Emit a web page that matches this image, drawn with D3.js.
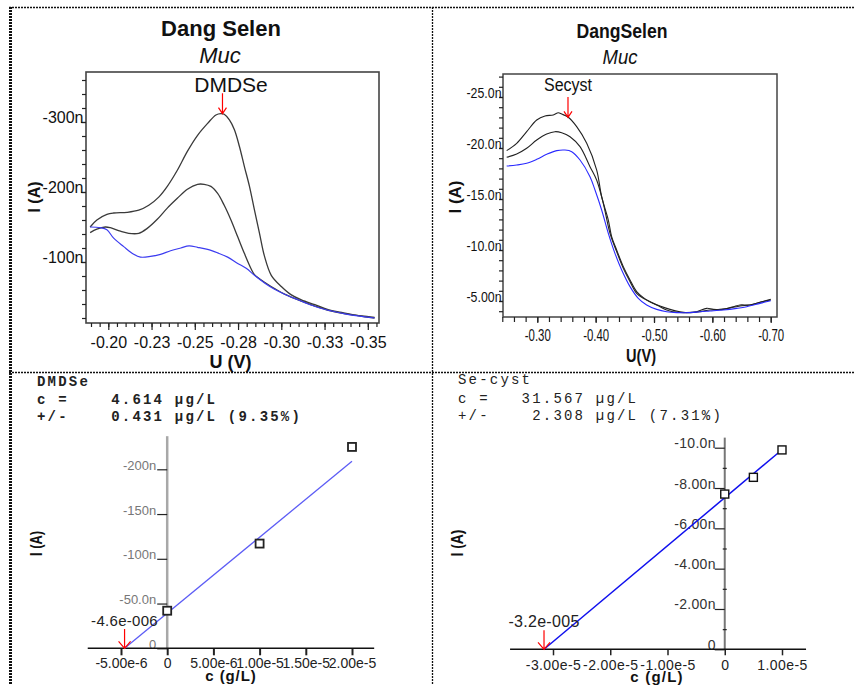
<!DOCTYPE html>
<html><head><meta charset="utf-8">
<script src="https://cdn.jsdelivr.net/npm/d3@7"></script>
<style>
html,body{margin:0;padding:0;background:#fff;}
svg{display:block;}
text{font-family:Arial,"Liberation Sans",sans-serif;}
.mono{font-family:"Liberation Mono","Courier New",monospace;white-space:pre;letter-spacing:2.2px;font-size:14px;}
</style></head><body>
<svg id="c" width="854" height="685"></svg>
<script>
// ---------- Panel 1 (DMDSe voltammogram) : [U (V), I (nA)] ----------
const p1Blue = [[-0.1895,-150],[-0.1953,-149],[-0.1992,-146],[-0.2031,-134],[-0.2089,-122],[-0.2147,-111],[-0.2186,-107],[-0.2244,-108],[-0.2302,-111],[-0.2360,-116],[-0.2419,-120],[-0.2467,-123],[-0.2516,-121],[-0.2574,-118],[-0.2632,-113],[-0.2690,-107],[-0.2748,-98],[-0.2797,-91],[-0.2845,-81],[-0.2903,-70],[-0.2961,-61],[-0.3019,-54],[-0.3077,-48],[-0.3136,-42],[-0.3213,-35],[-0.3291,-30],[-0.3368,-26],[-0.3446,-23],[-0.3539,-20]];
const p1Std1 = [[-0.1895,-142],[-0.1934,-147],[-0.1983,-150],[-0.2012,-149],[-0.2070,-144],[-0.2118,-141],[-0.2176,-141],[-0.2225,-148],[-0.2283,-161],[-0.2341,-177],[-0.2399,-191],[-0.2457,-204],[-0.2516,-211],[-0.2554,-211],[-0.2593,-208],[-0.2632,-198],[-0.2670,-181],[-0.2709,-160],[-0.2748,-136],[-0.2787,-112],[-0.2826,-90],[-0.2845,-82],[-0.2903,-71],[-0.2961,-62],[-0.3019,-54],[-0.3116,-44],[-0.3194,-37],[-0.3271,-31],[-0.3349,-27],[-0.3426,-24],[-0.3504,-21],[-0.3539,-20]];
const p1Std2 = [[-0.1895,-150],[-0.1934,-160],[-0.1992,-168],[-0.2031,-170],[-0.2109,-171],[-0.2176,-174],[-0.2234,-181],[-0.2293,-193],[-0.2341,-208],[-0.2399,-231],[-0.2457,-258],[-0.2516,-281],[-0.2574,-298],[-0.2622,-310],[-0.2651,-312],[-0.2670,-311],[-0.2700,-303],[-0.2729,-289],[-0.2758,-265],[-0.2787,-236],[-0.2816,-208],[-0.2845,-174],[-0.2874,-141],[-0.2903,-108],[-0.2942,-81],[-0.3000,-65],[-0.3058,-53],[-0.3116,-46],[-0.3194,-39],[-0.3271,-32],[-0.3349,-28],[-0.3426,-24],[-0.3504,-22],[-0.3539,-21]];
const p1XTickVals = [-0.200,-0.225,-0.250,-0.275,-0.300,-0.325,-0.350];
const p1XTickLabels = ["-0.20","-0.23","-0.25","-0.28","-0.30","-0.33","-0.35"];
const p1YTickVals = [-100,-200,-300];
const p1YTickLabels = ["-100n","-200n","-300n"];
const p1Arrow = [-0.266,-341,-312]; // U, top I, tip I

// ---------- Panel 2 (Se-cyst voltammogram) ----------
const p2Blue = [[-0.2475,-18.24],[-0.2647,-18.33],[-0.2818,-18.50],[-0.2990,-18.89],[-0.3161,-19.38],[-0.3333,-19.74],[-0.3475,-19.80],[-0.3590,-19.64],[-0.3732,-18.82],[-0.3903,-17.19],[-0.3989,-15.88],[-0.4103,-13.92],[-0.4217,-11.63],[-0.4331,-9.67],[-0.4446,-8.04],[-0.4589,-6.41],[-0.4731,-5.26],[-0.4874,-4.61],[-0.5046,-4.18],[-0.5217,-3.95],[-0.5389,-3.86],[-0.5617,-3.86],[-0.5789,-3.95],[-0.5960,-4.02],[-0.6189,-4.12],[-0.6417,-4.28],[-0.6589,-4.44],[-0.6817,-4.77],[-0.7000,-5.03]];
const p2Std1 = [[-0.2475,-19.09],[-0.2647,-19.41],[-0.2818,-19.97],[-0.2990,-20.78],[-0.3161,-21.37],[-0.3303,-21.60],[-0.3418,-21.50],[-0.3561,-21.11],[-0.3732,-20.13],[-0.3903,-18.17],[-0.4017,-16.86],[-0.4131,-14.58],[-0.4246,-11.63],[-0.4360,-9.84],[-0.4474,-8.20],[-0.4589,-6.90],[-0.4703,-5.75],[-0.4817,-5.26],[-0.4931,-4.93],[-0.5103,-4.51],[-0.5274,-4.18],[-0.5446,-3.95],[-0.5617,-3.86],[-0.5789,-3.95],[-0.5960,-4.12],[-0.6131,-4.18],[-0.6303,-4.31],[-0.6474,-4.51],[-0.6646,-4.61],[-0.6817,-4.87],[-0.7000,-5.10]];
const p2Std2 = [[-0.2475,-19.74],[-0.2647,-20.46],[-0.2818,-21.60],[-0.2990,-22.75],[-0.3132,-23.14],[-0.3274,-23.24],[-0.3360,-23.46],[-0.3418,-23.33],[-0.3531,-23.01],[-0.3675,-22.09],[-0.3847,-20.46],[-0.4018,-17.84],[-0.4103,-15.23],[-0.4217,-12.94],[-0.4274,-11.31],[-0.4360,-10.00],[-0.4474,-8.37],[-0.4589,-7.06],[-0.4703,-5.92],[-0.4817,-5.33],[-0.4931,-4.93],[-0.5103,-4.44],[-0.5217,-4.12],[-0.5389,-3.89],[-0.5560,-3.86],[-0.5731,-3.95],[-0.5903,-4.28],[-0.6017,-4.18],[-0.6189,-4.18],[-0.6360,-4.44],[-0.6474,-4.61],[-0.6646,-4.61],[-0.6817,-4.87],[-0.7000,-5.16]];
const p2XTickVals = [-0.30,-0.40,-0.50,-0.60,-0.70];
const p2XTickLabels = ["-0.30","-0.40","-0.50","-0.60","-0.70"];
const p2YTickVals = [-5,-10,-15,-20,-25];
const p2YTickLabels = ["-5.00n","-10.0n","-15.0n","-20.0n","-25.0n"];
const p2Arrow = [-0.3526,-25.0,-23.0];

// ---------- Panel 3 (DMDSe standard addition) : [c (g/L), I (nA)] ----------
const p3Points = [[0,-42],[1e-5,-117],[2e-5,-225]];
const p3Fit = [[-4.614e-6,0],[2e-5,-209]];
const p3XTickVals = [-5e-6,0,5e-6,1e-5,1.5e-5,2e-5];
const p3XTickLabels = ["-5.00e-6","0","5.00e-6","1.00e-5","1.50e-5","2.00e-5"];
const p3YTickVals = [0,-50,-100,-150,-200];
const p3YTickLabels = ["0","-50.0n","-100n","-150n","-200n"];
const p3XExtent = [-8.6e-6,2.24e-5];
const p3YTop = -237;
const p3Arrow = [-4.614e-6,-21.5,0];
const p3ArrowLabel = "-4.6e-006";
const p3Header = ["DMDSe","c =    4.614 µg/L","+/-    0.431 µg/L (9.35%)"];

// ---------- Panel 4 (Se-cyst standard addition) ----------
const p4Points = [[0,-7.70],[5e-6,-8.53],[1e-5,-9.89]];
const p4Fit = [[-3.157e-5,0],[1e-5,-9.9]];
const p4XTickVals = [-3e-5,-2e-5,-1e-5,0,1e-5];
const p4XTickLabels = ["-3.00e-5","-2.00e-5","-1.00e-5","0","1.00e-5"];
const p4YTickVals = [0,-2,-4,-6,-8,-10];
const p4YTickLabels = ["0","-2.00n","-4.00n","-6.00n","-8.00n","-10.0n"];
const p4YMinor = [-1,-3,-5,-7,-9];
const p4XExtent = [-3.75e-5,1.42e-5];
const p4YTop = -10.5;
const p4Arrow = [-3.157e-5,-0.95,0];
const p4ArrowLabel = "-3.2e-005";
const p4Header = ["Se-cyst","c =   31.567 µg/L","+/-    2.308 µg/L (7.31%)"];

// =====================================================================
const svg = d3.select("#c");
svg.append("rect").attr("width",854).attr("height",685).attr("fill","#fff");
const FONT = "Arial, 'Liberation Sans', sans-serif";

// table grid
function gl(x1,y1,x2,y2,w,da){svg.append("line").attr("x1",x1).attr("y1",y1).attr("x2",x2).attr("y2",y2)
  .attr("stroke","#111").attr("stroke-width",w).attr("stroke-dasharray",da);}
gl(10.5,7,10.5,685,3,"2,1");
gl(9,7.5,854,7.5,1.6,"2,1");
gl(432.5,7,432.5,685,1.3,"2,1");
gl(9,372.5,854,372.5,1.3,"2,1");

function txt(x,y,s,size,opt={}){
  const t=svg.append("text").attr("x",x).attr("y",y).text(s).attr("font-size",size)
    .attr("text-anchor",opt.anchor||"middle").attr("fill",opt.fill||"#111");
  if(opt.bold) t.attr("font-weight","bold");
  if(opt.italic) t.attr("font-style","italic");
  if(opt.len) t.attr("textLength",opt.len).attr("lengthAdjust","spacingAndGlyphs");
  if(opt.ls) t.attr("letter-spacing",opt.ls);
  if(opt.rot) t.attr("transform",`rotate(-90,${x},${y})`);
  return t;
}
function arrow(x,yTop,yTip,arm,h){
  svg.append("path").attr("d",`M${x},${yTop}L${x},${yTip}M${x-arm},${yTip-h}L${x},${yTip}L${x+arm},${yTip-h}`)
    .attr("fill","none").attr("stroke","#f00").attr("stroke-width",1.2);
}
function styleAxis(g,size,fill,lineW){
  g.attr("font-size",size).attr("font-family",FONT);
  g.select(".domain").remove();
  g.selectAll("line").attr("stroke","#222").attr("stroke-width",lineW||1.2);
  g.selectAll("text").attr("fill",fill||"#111");
  return g;
}

// ---------------- Panel 1 ----------------
{
  const F={l:86,t:72,r:379,b:323};
  const x=d3.scaleLinear().domain([-0.20,-0.35]).range([108.3,367.8]);
  const y=d3.scaleLinear().domain([0,-300]).range([332,122]);
  const ln=d3.line().x(d=>x(d[0])).y(d=>y(d[1])).curve(d3.curveCatmullRom.alpha(0.5));
  svg.append("path").attr("d",ln(p1Std2)).attr("fill","none").attr("stroke","#3a3a3a").attr("stroke-width",1.3);
  svg.append("path").attr("d",ln(p1Std1)).attr("fill","none").attr("stroke","#3a3a3a").attr("stroke-width",1.3);
  svg.append("path").attr("d",ln(p1Blue)).attr("fill","none").attr("stroke","#3c3cf0").attr("stroke-width",1.2);
  svg.append("rect").attr("x",F.l).attr("y",F.t).attr("width",F.r-F.l).attr("height",F.b-F.t)
    .attr("fill","none").attr("stroke","#444").attr("stroke-width",1.6);
  const xMinor=d3.range(38,72).map(k=>-k*0.005);
  styleAxis(svg.append("g").attr("transform",`translate(0,${F.b})`).call(d3.axisBottom(x).tickValues(xMinor).tickSize(4).tickFormat("")),16);
  styleAxis(svg.append("g").attr("transform",`translate(0,${F.b})`).call(d3.axisBottom(x).tickValues(p1XTickVals).tickSize(7).tickPadding(7).tickFormat((d,i)=>p1XTickLabels[i])),16);
  const yMinor=d3.range(1,19).map(k=>-k*20);
  styleAxis(svg.append("g").attr("transform",`translate(${F.l},0)`).call(d3.axisLeft(y).tickValues(yMinor).tickSize(4).tickFormat("")),16);
  const gy=styleAxis(svg.append("g").attr("transform",`translate(${F.l},0)`).call(d3.axisLeft(y).tickValues(p1YTickVals).tickSize(5).tickFormat((d,i)=>p1YTickLabels[i])),16);
  gy.selectAll("text").attr("dy","0").attr("x",-2.5);
  arrow(x(p1Arrow[0]),y(p1Arrow[1]),y(p1Arrow[2]),4,6);
  txt(221,36,"Dang Selen",22,{bold:true});
  txt(220,62.5,"Muc",22,{italic:true});
  txt(231,91.5,"DMDSe",21);
  txt(34.5,197,"I (A)",16,{bold:true,rot:true}).attr("dy","0.36em");
  txt(230.5,368,"U (V)",18,{bold:true});
}

// ---------------- Panel 2 ----------------
{
  const F={l:503,t:74,r:777,b:317};
  const x=d3.scaleLinear().domain([-0.30,-0.70]).range([537.3,770.7]);
  const y=d3.scaleLinear().domain([-5,-25]).range([301,97]);
  const ln=d3.line().x(d=>x(d[0])).y(d=>y(d[1])).curve(d3.curveCatmullRom.alpha(0.5));
  svg.append("path").attr("d",ln(p2Std2)).attr("fill","none").attr("stroke","#222").attr("stroke-width",1.1);
  svg.append("path").attr("d",ln(p2Std1)).attr("fill","none").attr("stroke","#222").attr("stroke-width",1.1);
  svg.append("path").attr("d",ln(p2Blue)).attr("fill","none").attr("stroke","#2a2aff").attr("stroke-width",1.1);
  svg.append("rect").attr("x",F.l).attr("y",F.t).attr("width",F.r-F.l).attr("height",F.b-F.t)
    .attr("fill","none").attr("stroke","#444").attr("stroke-width",1.5);
  const xMinor=d3.range(12,36).map(k=>-k*0.02);
  styleAxis(svg.append("g").attr("transform",`translate(0,${F.b})`).call(d3.axisBottom(x).tickValues(xMinor).tickSize(5).tickFormat("")),16);
  const gx=styleAxis(svg.append("g").attr("transform",`translate(0,${F.b})`).call(d3.axisBottom(x).tickValues(p2XTickVals).tickSize(6).tickPadding(7).tickFormat((d,i)=>p2XTickLabels[i])),16);
  gx.selectAll("text").attr("textLength",26).attr("lengthAdjust","spacingAndGlyphs");
  const yMinor=d3.range(4,28).map(k=>-k);
  styleAxis(svg.append("g").attr("transform",`translate(${F.l},0)`).call(d3.axisLeft(y).tickValues(yMinor).tickSize(4).tickFormat("")),15);
  const gy=styleAxis(svg.append("g").attr("transform",`translate(${F.l},0)`).call(d3.axisLeft(y).tickValues(p2YTickVals).tickSize(4).tickFormat((d,i)=>p2YTickLabels[i])),15);
  gy.selectAll("text").attr("dy","0").attr("x",-1.5).attr("textLength",35).attr("lengthAdjust","spacingAndGlyphs");
  arrow(x(p2Arrow[0]),y(p2Arrow[1]),y(p2Arrow[2]),4,6);
  txt(622,37.5,"DangSelen",21,{bold:true,len:91});
  txt(620,64,"Muc",20,{italic:true,len:35});
  txt(568,90.5,"Secyst",18,{len:48});
  txt(455,197,"I (A)",16,{bold:true,rot:true,len:33}).attr("dy","0.36em");
  txt(641,362,"U(V)",19,{bold:true,len:30});
}

// ---------------- Panel 3 ----------------
{
  const x=d3.scaleLinear().domain([-5e-6,2e-5]).range([121,352]);
  const y=d3.scaleLinear().domain([0,-200]).range([648.3,469.3]);
  svg.append("line").attr("x1",x(0)).attr("x2",x(0)).attr("y1",y(0)).attr("y2",y(p3YTop))
    .attr("stroke","#a8a8a8").attr("stroke-width",2.5);
  styleAxis(svg.append("g").attr("transform",`translate(0,${y(0)})`).call(d3.axisBottom(x).tickValues(p3XTickVals).tickSize(7).tickPadding(3).tickFormat((d,i)=>p3XTickLabels[i])),14,"#222",2);
  const gy=styleAxis(svg.append("g").attr("transform",`translate(${x(0)},0)`).call(d3.axisLeft(y).tickValues(p3YTickVals).tickSize(10).tickFormat((d,i)=>p3YTickLabels[i])),13,"#777",1.2);
  gy.selectAll("text").attr("dy","0").attr("x",-11);
  svg.append("line").attr("x1",x(p3XExtent[0])).attr("x2",x(p3XExtent[1])).attr("y1",y(0)).attr("y2",y(0))
    .attr("stroke","#111").attr("stroke-width",1.6);
  const ln=d3.line().x(d=>x(d[0])).y(d=>y(d[1]));
  svg.append("path").attr("d",ln(p3Fit)).attr("fill","none").attr("stroke","#5c5cf5").attr("stroke-width",1.3);
  svg.selectAll(null).data(p3Points).enter().append("rect")
    .attr("x",d=>x(d[0])-4).attr("y",d=>y(d[1])-4).attr("width",8).attr("height",8)
    .attr("fill","#fff").attr("stroke","#222").attr("stroke-width",1.8);
  const ax=x(p3Arrow[0]);
  arrow(ax,y(p3Arrow[1]),y(p3Arrow[2]),6,7);
  txt(ax,626,p3ArrowLabel,15,{ls:0.3,fill:"#222"});
  p3Header.forEach((s,i)=>{
    svg.append("text").attr("class","mono").attr("x",37).attr("y",[386,404,421][i]).text(s)
      .attr("font-weight","bold").attr("fill","#222");
  });
  txt(36,543.5,"I (A)",16,{bold:true,rot:true,len:25}).attr("dy","0.36em");
  txt(231,681,"c (g/L)",15,{bold:true,ls:0.9});
}

// ---------------- Panel 4 ----------------
{
  const x=d3.scaleLinear().domain([-3e-5,1e-5]).range([553,782]);
  const y=d3.scaleLinear().domain([0,-10]).range([649.3,447.7]);
  svg.append("line").attr("x1",x(0)).attr("x2",x(0)).attr("y1",y(0)).attr("y2",y(p4YTop))
    .attr("stroke","#777").attr("stroke-width",2);
  styleAxis(svg.append("g").attr("transform",`translate(0,${y(0)})`).call(d3.axisBottom(x).tickValues(p4XTickVals).tickSize(6).tickPadding(5).tickFormat((d,i)=>p4XTickLabels[i])),14,"#222",1.5)
    .selectAll("text").attr("letter-spacing",0.4);
  styleAxis(svg.append("g").attr("transform",`translate(${x(0)+2},0)`).call(d3.axisLeft(y).tickValues(p4YMinor).tickSize(4).tickFormat("")),14,"#222",1.2);
  const gy=styleAxis(svg.append("g").attr("transform",`translate(${x(0)},0)`).call(d3.axisLeft(y).tickValues(p4YTickVals).tickSize(10).tickFormat((d,i)=>p4YTickLabels[i])),14,"#333",1.2);
  gy.selectAll("text").attr("dy","0").attr("x",-9).attr("letter-spacing",0.3);
  svg.append("line").attr("x1",x(p4XExtent[0])).attr("x2",x(p4XExtent[1])).attr("y1",y(0)).attr("y2",y(0))
    .attr("stroke","#111").attr("stroke-width",1.5);
  const ln=d3.line().x(d=>x(d[0])).y(d=>y(d[1]));
  svg.append("path").attr("d",ln(p4Fit)).attr("fill","none").attr("stroke","#1010ee").attr("stroke-width",1.5);
  svg.selectAll(null).data(p4Points).enter().append("rect")
    .attr("x",d=>x(d[0])-4).attr("y",d=>y(d[1])-4).attr("width",8).attr("height",8)
    .attr("fill","#fff").attr("stroke","#111").attr("stroke-width",1.4);
  const ax=x(p4Arrow[0]);
  arrow(ax,y(p4Arrow[1]),y(p4Arrow[2]),6,7);
  txt(ax,627,p4ArrowLabel,16,{ls:0.3,fill:"#222"});
  p4Header.forEach((s,i)=>{
    svg.append("text").attr("class","mono").attr("x",458).attr("y",[384,403,420][i]).text(s).attr("fill","#222");
  });
  txt(457,543,"I (A)",16,{bold:true,rot:true,len:27}).attr("dy","0.36em");
  txt(657,681.5,"c (g/L)",15,{bold:true,ls:1.2});
}
</script>
</body></html>
